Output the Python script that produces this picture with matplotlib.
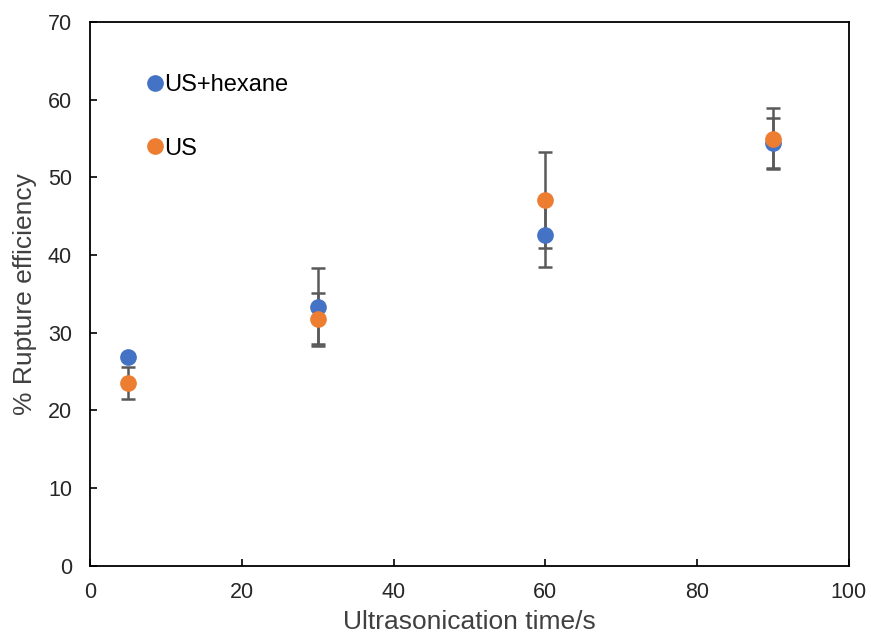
import matplotlib.pyplot as plt

plt.rcParams['font.family'] = ['Liberation Sans', 'DejaVu Sans']

time_s = [5, 30, 60, 90]
hexane = [26.9, 33.3, 42.6, 54.4]
hexane_err = [0.3, 5.0, 4.2, 3.2]
us = [23.5, 31.8, 47.1, 55.0]
us_err = [2.1, 3.3, 6.2, 3.9]

fig = plt.figure(figsize=(8.71, 6.34), dpi=100)
ax = fig.add_axes([0.1035, 0.108, 0.871, 0.857])

ax.errorbar(time_s, hexane, yerr=hexane_err, fmt='none', ecolor='#595959',
            elinewidth=1.8, capsize=5, capthick=1.8, zorder=2)
ax.errorbar(time_s, us, yerr=us_err, fmt='none', ecolor='#595959',
            elinewidth=1.8, capsize=5, capthick=1.8, zorder=2)
ax.plot(time_s, hexane, 'o', color='#4472C4', markersize=11, label='US+hexane', zorder=3)
ax.plot(time_s, us, 'o', color='#ED7D31', markersize=11, label='US', zorder=4)

ax.set_xlim(0, 100)
ax.set_ylim(0, 70)
ax.set_xticks(range(0, 101, 20))
ax.set_yticks(range(0, 71, 10))
ax.tick_params(direction='in', length=5, width=1.2, labelsize=15.5,
               labelcolor='#262626')
ax.tick_params(axis='x', pad=12)
ax.tick_params(axis='y', pad=13)
for s in ax.spines.values():
    s.set_linewidth(1.3)
    s.set_color('black')

ax.set_xlabel('Ultrasonication time/s', fontsize=19, labelpad=5, color='#404040')
ax.set_ylabel('% Rupture efficiency', fontsize=19, labelpad=8, color='#404040')

ax.legend(loc='upper left', bbox_to_anchor=(0.042, 0.943), frameon=False,
          fontsize=17, handletextpad=-0.1, labelspacing=1.75, handlelength=1.0)

fig.savefig('out.png', dpi=100)
